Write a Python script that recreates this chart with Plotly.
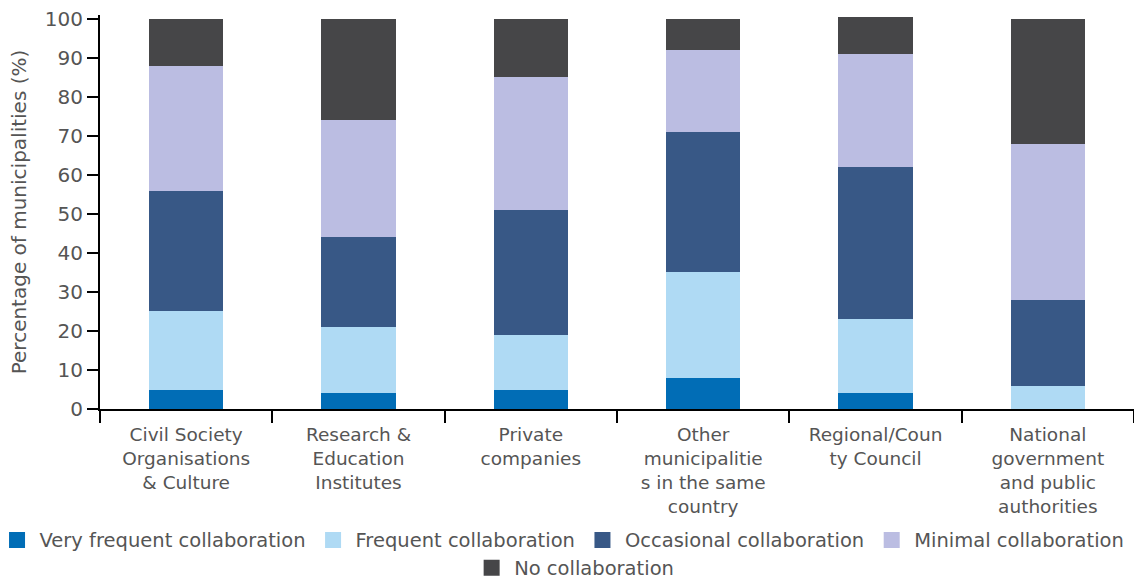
import plotly.graph_objects as go

categories = [
    "Civil Society<br>Organisations<br>& Culture",
    "Research &<br>Education<br>Institutes",
    "Private<br>companies",
    "Other<br>municipalitie<br>s in the same<br>country",
    "Regional/Coun<br>ty Council",
    "National<br>government<br>and public<br>authorities",
]

very_frequent = [5, 4, 5, 8, 4, 0]
frequent = [20, 17, 14, 27, 19, 6]
occasional = [31, 23, 32, 36, 39, 22]
minimal = [32, 30, 34, 21, 29, 40]
no_collab = [12, 26, 15, 8, 9.5, 32]

series = [
    ("Very frequent collaboration", very_frequent, "#016db6", "legend"),
    ("Frequent collaboration", frequent, "#afdaf4", "legend"),
    ("Occasional collaboration", occasional, "#385886", "legend"),
    ("Minimal collaboration", minimal, "#bbbde2", "legend"),
    ("No collaboration", no_collab, "#464648", "legend2"),
]

FONT = "DejaVu Sans, sans-serif"
GREY = "#555555"

fig = go.Figure()
for name, vals, color, leg in series:
    fig.add_trace(go.Bar(
        x=categories,
        y=vals,
        name=name,
        showlegend=False,
        marker=dict(color=color, line=dict(width=0)),
    ))
    # legend swatch only (bigger square than the bar legend icon)
    fig.add_trace(go.Scatter(
        x=[None], y=[None],
        mode="markers",
        name=name,
        legend=leg,
        marker=dict(symbol="square", size=18, color=color),
    ))

legend_style = dict(
    orientation="h",
    yanchor="middle",
    font=dict(family=FONT, size=19.5, color=GREY),
    itemwidth=35,
    traceorder="normal",
    bgcolor="rgba(0,0,0,0)",
)

fig.update_layout(
    barmode="stack",
    bargap=0.57,
    width=1134,
    height=579,
    plot_bgcolor="white",
    paper_bgcolor="white",
    font=dict(family=FONT, size=18, color=GREY),
    margin=dict(l=100, r=0, t=15, b=170, autoexpand=False),
    legend=dict(legend_style, x=-0.102, xanchor="left", y=-0.333),
    legend2=dict(legend_style, x=0.357, xanchor="left", y=-0.404),
)

fig.update_yaxes(
    range=[0, 101],
    tickvals=list(range(0, 101, 10)),
    automargin=False,
    showgrid=False,
    zeroline=False,
    showline=True,
    linecolor="black",
    linewidth=2,
    ticks="outside",
    ticklen=11,
    tickwidth=2,
    tickcolor="black",
    tickfont=dict(size=20, color=GREY),
    title=dict(text="\u00a0\u00a0\u00a0Percentage of municipalities (%)", font=dict(size=20, color=GREY), standoff=13),
)
fig.update_xaxes(
    automargin=False,
    showgrid=False,
    showline=True,
    linecolor="black",
    linewidth=2,
    ticks="outside",
    tickson="boundaries",
    ticklen=12,
    tickwidth=2,
    tickcolor="black",
    tickfont=dict(size=18.5, color=GREY),
    ticklabelstandoff=8,
    tickangle=0,
)

fig.write_html(
    "out.html",
    config={"displayModeBar": False},
    post_script="document.body.style.margin='0px';",
)
